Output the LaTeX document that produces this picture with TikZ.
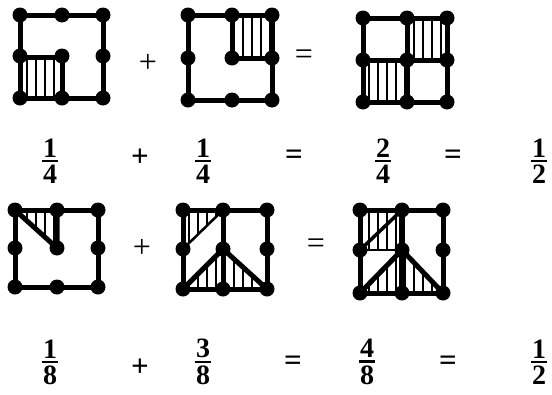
\documentclass[tikz,border=0pt]{standalone}
\usepackage{fontspec}
\setmainfont{Liberation Serif}[BoldFont={Liberation Serif Bold}]
\usetikzlibrary{patterns.meta}

% fraction: numerator, bar, denominator
\newcommand\fr[2]{\vbox{\hbox to 0.6em{\hss#1\hss}\kern2.5pt\hrule height 2.6pt\kern2.5pt\hbox to 0.6em{\hss#2\hss}}}

% square with its nine dots: x0 xm x1 y0 ym y1
\newcommand\gridsq[6]{%
  \draw[edge] (#1,#4) rectangle (#3,#6);
  \foreach \px in {#1,#2,#3}
    \foreach \py in {#4,#5,#6}
      \fill (\px,\py) circle (7.5pt);
}

\tikzset{
  edge/.style={line width=5pt, line cap=round, line join=round},
  thinedge/.style={line width=2.5pt},
  hatch/.style={pattern={Lines[angle=90,distance=9pt,line width=1.3pt]}},
  frac/.style={font=\fontsize{28}{32}\bfseries\selectfont, inner sep=0pt},
  bigop/.style={font=\fontsize{31}{35}\bfseries\selectfont, inner sep=0pt},
  op/.style={font=\fontsize{32}{36}\selectfont, inner sep=0pt},
}

\begin{document}
\begin{tikzpicture}[x=1pt, y=-1pt]
    \useasboundingbox (0,0) rectangle (552,394);

    % --- first row: quarters ---
    \fill[hatch] (20,57) rectangle (62,98);
    \draw[edge] (20,57) -- (62,57) -- (62,98);
    \gridsq{20}{62}{103}{15}{56}{98}

    \fill[hatch] (232,15) rectangle (272,58);
    \draw[edge] (232,15) -- (232,58) -- (272,58);
    \gridsq{188}{232}{272}{15}{58}{100}

    \fill[hatch] (407,18) rectangle (447,60);
    \fill[hatch] (363,60) rectangle (407,102);
    \draw[edge] (407,18) -- (407,102);
    \draw[edge] (363,60) -- (447,60);
    \gridsq{363}{407}{447}{18}{60}{102}

    \node[op] (plusA) at (148,63) {+};
    \node[op] (eqA) at (304,57) {=};

    % --- first row of numbers ---
    \node[frac] (fa1) at (50,161) {\fr{1}{4}};
    \node[bigop] (pa) at (140,158) {+};
    \node[frac] (fa2) at (203,161) {\fr{1}{4}};
    \node[bigop] (ea1) at (294,157) {=};
    \node[frac] (fa3) at (383,161) {\fr{2}{4}};
    \node[bigop] (ea2) at (453,157) {=};
    \node[frac] (fa4) at (539,161) {\fr{1}{2}};

    % --- second row: eighths ---
    \fill[hatch] (15,210) -- (57,210) -- (57,248) -- cycle;
    \draw[edge] (15,210) -- (57,248) -- (57,210);
    \gridsq{15}{57}{98}{210}{248}{287}

    \fill[hatch] (183,210) -- (223,210) -- (183,249) -- cycle;
    \fill[hatch] (183,289) -- (223,249) -- (267,289) -- cycle;
    \draw[thinedge] (223,210) -- (183,249);
    \draw[edge] (223,210) -- (223,289);
    \draw[edge] (183,289) -- (223,249) -- (267,289);
    \gridsq{183}{223}{267}{210}{249}{289}

    \fill[hatch] (360,210) rectangle (402,250);
    \fill[hatch] (360,293) -- (402,250) -- (443,293) -- cycle;
    \draw[line width=3.5pt] (402,210) -- (360,250);
    \draw[thinedge] (360,250) -- (402,250);
    \draw[line width=6pt] (402,210) -- (402,293);
    \draw[edge] (360,293) -- (402,250) -- (443,293);
    \gridsq{360}{402}{443}{210}{250}{293}

    \node[op] (plusB) at (142,248) {+};
    \node[op] (eqB) at (316,246) {=};

    % --- second row of numbers ---
    \node[frac] (fb1) at (50,362) {\fr{1}{8}};
    \node[bigop] (pb) at (140,368) {+};
    \node[frac] (fb2) at (203,362) {\fr{3}{8}};
    \node[bigop] (eb1) at (293,363) {=};
    \node[frac] (fb3) at (367,362) {\fr{4}{8}};
    \node[bigop] (eb2) at (448,363) {=};
    \node[frac] (fb4) at (539,362) {\fr{1}{2}};
\end{tikzpicture}
\end{document}
